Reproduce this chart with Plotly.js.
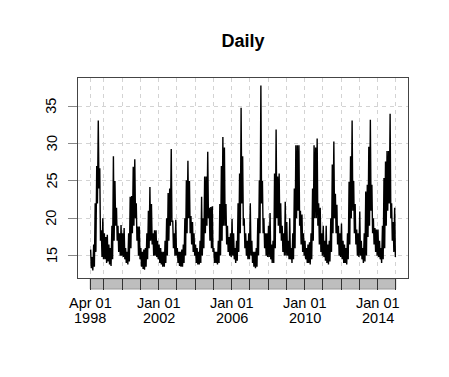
<!DOCTYPE html>
<html>
<head>
<meta charset="utf-8">
<script src="https://cdn.plot.ly/plotly-3.0.1.min.js"></script>
<style>html,body{margin:0;padding:0;background:#fff;}#chart{width:449px;height:377px;}</style>
</head>
<body>
<div id="chart"></div>
<script>
// Monthly envelope (high / low of the daily series), starting April 1998
const firstYear = 1998;
const firstMonth = 4;
const hi = [
  // 1998 Apr-Dec
  15.8, 14.8, 16.5, 22, 27, 33.1, 26.7, 18.4, 20,
  // 1999
  18, 17.5, 17.8, 16.5, 16, 19, 28.3, 25, 21.4, 19, 18, 19.1,
  // 2000
  18, 18.7, 16, 15.5, 18, 22.9, 23, 26.9, 27.9, 22, 18.9, 18.9,
  // 2001
  16, 15.5, 15.8, 16, 18, 21, 24.2, 21.9, 18, 18.4, 18.4, 17,
  // 2002
  16.5, 16, 15.5, 15.5, 17, 20, 23.4, 24, 29.3, 19.7, 18, 19.8,
  // 2003
  16, 15.5, 15.5, 15.8, 16.5, 20, 25.1, 27.7, 25, 20.3, 19.5, 18,
  // 2004
  16.5, 16, 15.5, 17, 22.9, 20, 25.6, 25.6, 28.9, 21.4, 21.5, 21.6,
  // 2005
  16, 15.5, 15.5, 17, 21.9, 27, 30.9, 29.5, 21.9, 19, 17.5, 18,
  // 2006
  19.9, 18, 16, 17, 22, 26, 34.8, 28.3, 20, 18, 17, 18,
  // 2007
  22, 17, 15.5, 15.5, 16, 20, 25.1, 37.8, 25, 20, 18, 18,
  // 2008
  19, 20.7, 16.5, 17, 26, 31.9, 25.6, 26, 22, 19, 18, 22.2,
  // 2009
  19.5, 17, 20, 16, 18, 24, 29.8, 29.8, 29.8, 21, 20.5, 18,
  // 2010
  17, 16, 16.5, 16.8, 18, 24, 29.8, 29.5, 30.7, 22, 21.4, 18,
  // 2011
  19, 17, 19, 16.5, 17, 20, 27.2, 30.3, 23.3, 21.8, 19, 18,
  // 2012
  19.3, 17, 16.5, 16, 18, 24.9, 28.3, 33.1, 25, 21.9, 18.5, 18,
  // 2013
  20.9, 17, 16, 18, 23.6, 24.5, 29.6, 33.2, 24.5, 20, 18.7, 18.5,
  // 2014
  18.5, 17, 16, 19, 25.4, 27.6, 29, 29, 34, 22, 19.5, 21.4
];
const lo = [
  // 1998 Apr-Dec
  13.3, 13.0, 13.5, 15.5, 22, 24, 17, 14.8, 14.5,
  // 1999
  14.5, 14, 14.2, 13.8, 13.6, 14.5, 17, 19, 17, 15.5, 15, 15,
  // 2000
  14.8, 14.5, 14, 13.8, 14.2, 16, 18, 19, 20, 17, 15, 14.5,
  // 2001
  13.5, 13.2, 13.1, 13.5, 14.5, 16, 17, 16.5, 15, 15, 14.8, 14.5,
  // 2002
  14, 13.8, 13.5, 13.5, 14, 15, 17, 19, 19.5, 16, 15, 15,
  // 2003
  14, 13.6, 13.5, 13.5, 14, 15, 18, 20, 18, 16.5, 15.5, 15,
  // 2004
  14, 13.8, 13.8, 14, 15, 16, 18, 19, 20, 17, 16, 15.5,
  // 2005
  14, 14, 13.8, 14, 15, 17, 19, 19, 16.5, 15.5, 15, 14.8,
  // 2006
  15, 14.5, 14, 14.3, 15.5, 18, 22, 19, 16, 15, 14.5, 14.5,
  // 2007
  15, 14, 13.5, 13.3, 13.5, 15, 18, 22, 18, 16, 15, 14.8,
  // 2008
  14.8, 14.5, 14, 14, 16, 20, 19, 18, 17, 15.5, 15, 15,
  // 2009
  15, 14.5, 14.5, 14, 14.5, 16, 20, 21, 19, 16.5, 15.5, 15,
  // 2010
  14.5, 14, 14, 13.8, 14.5, 17, 20, 20, 19, 16.5, 15.5, 15,
  // 2011
  14.8, 14.3, 14, 13.8, 14.2, 15.5, 18, 20, 18, 16.5, 15, 14.8,
  // 2012
  14.5, 14, 14, 13.8, 14.5, 16.5, 20, 21, 18, 16.5, 15, 14.8,
  // 2013
  15, 14.5, 14, 14.2, 15, 17.5, 19, 21, 18, 16.5, 15.5, 15,
  // 2014
  14.8, 14.5, 14, 14.5, 16, 19, 21, 22, 20, 17, 15.5, 14.8
];
const seriesStart = '1998-04-01';
const seriesEnd = '2014-12-31';
const gridDates = ['1998-04-01','1999-01-01','2000-01-01','2001-01-01','2002-01-01','2003-01-01',
  '2004-01-01','2005-01-01','2006-01-01','2007-01-01','2008-01-01','2009-01-01','2010-01-01',
  '2011-01-01','2012-01-01','2013-01-01','2014-01-01','2015-01-01'];
const labelDates = ['1998-04-01','2002-01-01','2006-01-01','2010-01-01','2014-01-01'];
const labelTop = ['Apr 01','Jan 01','Jan 01','Jan 01','Jan 01'];
const labelBottom = ['1998','2002','2006','2010','2014'];
const yTicks = [15, 20, 25, 30, 35];
const chartTitle = 'Daily';

// build the zig-zag daily-like line from the monthly envelope
const xs = [], ys = [];
function pad(n){ return (n < 10 ? '0' : '') + n; }
for (let i = 0; i < hi.length; i++) {
  const k = firstMonth - 1 + i;
  const yr = firstYear + Math.floor(k / 12);
  const mo = (k % 12) + 1;
  xs.push(yr + '-' + pad(mo) + '-09'); ys.push(hi[i]);
  xs.push(yr + '-' + pad(mo) + '-23'); ys.push(lo[i]);
}

const font = 'Liberation Sans, Arial, Helvetica, sans-serif';
const annotations = [];
labelDates.forEach((d, i) => {
  annotations.push({x: d, y: 0, xref: 'x', yref: 'paper', text: labelTop[i], showarrow: false,
    yanchor: 'middle', yshift: -25, font: {family: font, size: 14.5, color: '#000'}});
  annotations.push({x: d, y: 0, xref: 'x', yref: 'paper', text: labelBottom[i], showarrow: false,
    yanchor: 'middle', yshift: -40, font: {family: font, size: 14.5, color: '#000'}});
});
yTicks.forEach(v => {
  annotations.push({x: 0, y: v, xref: 'paper', yref: 'y', text: String(v), showarrow: false,
    textangle: -90, xanchor: 'center', yanchor: 'middle', xshift: -26.5,
    font: {family: font, size: 14.5, color: '#000'}});
});

const layout = {
  width: 449, height: 377,
  margin: {l: 78, r: 41, t: 78, b: 99, pad: 0},
  paper_bgcolor: '#fff', plot_bgcolor: '#fff',
  showlegend: false,
  title: {text: '<b>' + chartTitle + '</b>', font: {family: font, size: 18, color: '#000'},
    xref: 'paper', x: 0.5, xanchor: 'center', yref: 'container', y: 1 - 40.5/377, yanchor: 'middle'},
  xaxis: {
    type: 'date', range: ['1997-07-30', '2015-09-02'],
    tickmode: 'array', tickvals: gridDates, showticklabels: false,
    ticks: 'outside', ticklen: 11, tickwidth: 1, tickcolor: '#333',
    showgrid: true, gridcolor: '#d3d3d3', griddash: '4px,4px', gridwidth: 1,
    showline: true, mirror: true, linecolor: '#444', linewidth: 1, zeroline: false
  },
  yaxis: {
    range: [12.0, 38.8], tickmode: 'array', tickvals: yTicks, showticklabels: false,
    ticks: 'outside', ticklen: 9, tickcolor: '#888', tickwidth: 1,
    showgrid: true, gridcolor: '#d3d3d3', griddash: '4px,4px', gridwidth: 1,
    showline: true, mirror: true, linecolor: '#444', linewidth: 1, zeroline: false
  },
  shapes: [{
    type: 'rect', xref: 'x', yref: 'paper', x0: seriesStart, x1: seriesEnd,
    y0: -0.055, y1: -0.005, fillcolor: '#bebebe', line: {color: '#9a9a9a', width: 1}, layer: 'below'
  }],
  annotations: annotations
};

Plotly.newPlot('chart', [{
  type: 'scatter', mode: 'lines', x: xs, y: ys,
  line: {color: '#000', width: 1.4}, hoverinfo: 'skip'
}], layout, {staticPlot: true, displayModeBar: false});
</script>
</body>
</html>
